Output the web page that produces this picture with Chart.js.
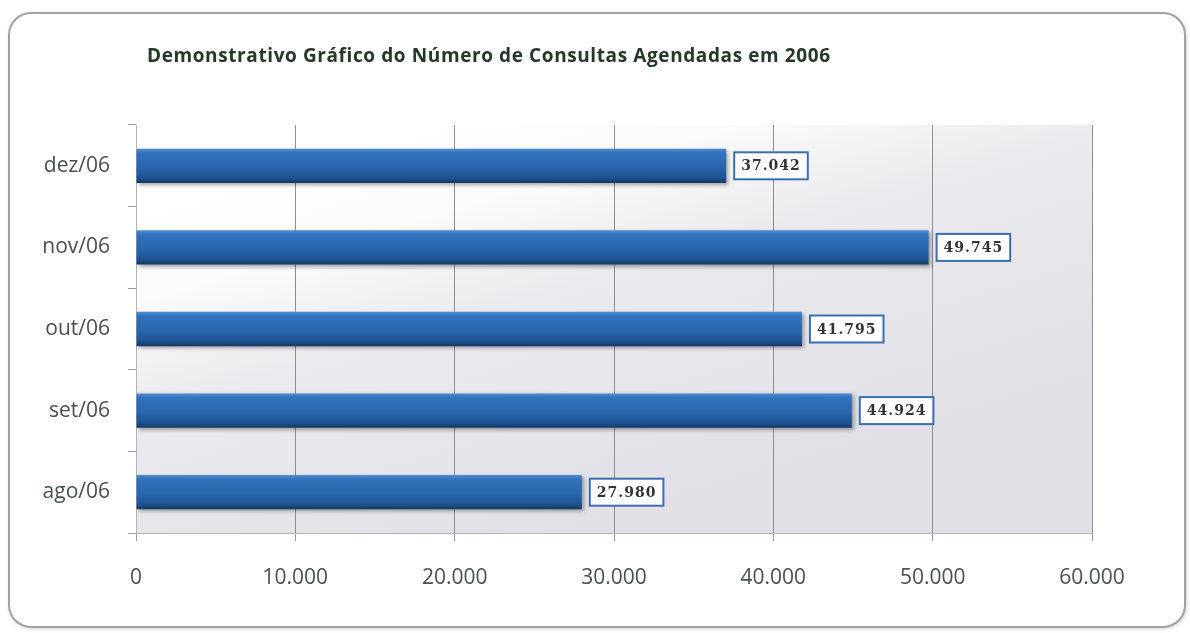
<!DOCTYPE html>
<html>
<head>
<meta charset="utf-8">
<script src="https://cdn.jsdelivr.net/npm/chart.js@4.4.1/dist/chart.umd.min.js"></script>
<style>
html,body{margin:0;padding:0;background:#fff;}
#wrap{width:1190px;height:633px;position:relative;}
</style>
</head>
<body>
<div id="wrap"><canvas id="c" width="1190" height="633"></canvas></div>
<script>
const chartTitle = 'Demonstrativo Gráfico do Número de Consultas Agendadas em 2006';
const categories = ['ago/06', 'set/06', 'out/06', 'nov/06', 'dez/06'];
const consultas = [27980, 44924, 41795, 49745, 37042];
const xTickValues = [0, 10000, 20000, 30000, 40000, 50000, 60000];

function fmt(v) {
  return String(Math.round(v)).replace(/\B(?=(\d{3})+(?!\d))/g, '.');
}

const cardPlugin = {
  id: 'card',
  beforeDraw(chart) {
    const ctx = chart.ctx;
    const a = chart.chartArea;
    ctx.save();
    const x = 9, y = 13, w = 1176, h = 614, r = 22;
    ctx.beginPath();
    ctx.roundRect(x, y, w, h, r);
    ctx.fillStyle = '#ffffff';
    ctx.shadowColor = 'rgba(0,0,0,0.25)';
    ctx.shadowBlur = 4;
    ctx.shadowOffsetX = 1;
    ctx.shadowOffsetY = 1;
    ctx.fill();
    ctx.shadowColor = 'transparent';
    ctx.lineWidth = 2;
    ctx.strokeStyle = '#a2a2a2';
    ctx.stroke();
    const g = ctx.createLinearGradient(a.left + 300, a.top, a.left + 420, a.bottom);
    g.addColorStop(0, '#ffffff');
    g.addColorStop(0.2, '#fbfbfc');
    g.addColorStop(0.45, '#ebebef');
    g.addColorStop(1, '#e0e0e6');
    ctx.fillStyle = g;
    ctx.fillRect(a.left, a.top, a.right - a.left, a.bottom - a.top);
    ctx.font = 'bold 19px "Open Sans"';
    ctx.letterSpacing = '0.6px';
    ctx.fillStyle = '#243a26';
    ctx.textBaseline = 'middle';
    ctx.textAlign = 'left';
    ctx.fillText(chartTitle, 147, 57);
    ctx.restore();
  },
  beforeDatasetsDraw(chart) {
    const ctx = chart.ctx;
    const meta = chart.getDatasetMeta(0);
    meta.data.forEach(el => {
      const top = el.y - el.height / 2, bot = el.y + el.height / 2;
      const g = ctx.createLinearGradient(0, top, 0, bot);
      g.addColorStop(0, '#4e8fd4');
      g.addColorStop(0.12, '#3372bc');
      g.addColorStop(0.55, '#2866ae');
      g.addColorStop(0.85, '#1e5392');
      g.addColorStop(1, '#133862');
      el.options = Object.assign({}, el.options, { backgroundColor: g });
    });
    ctx.save();
    ctx.shadowColor = 'rgba(0,0,0,0.35)';
    ctx.shadowBlur = 4;
    ctx.shadowOffsetX = 2;
    ctx.shadowOffsetY = 2;
  },
  afterDatasetsDraw(chart) {
    const ctx = chart.ctx;
    ctx.restore();
    const meta = chart.getDatasetMeta(0);
    ctx.save();
    ctx.font = 'bold 14px "DejaVu Serif"';
    ctx.letterSpacing = '1px';
    ctx.textBaseline = 'middle';
    ctx.textAlign = 'left';
    meta.data.forEach((el, i) => {
      const txt = fmt(consultas[i]);
      const tw = ctx.measureText(txt).width;
      const bx = el.x + 8, bw = tw + 14, bh = 27;
      const by = el.y - bh / 2;
      ctx.fillStyle = '#ffffff';
      ctx.fillRect(bx, by, bw, bh);
      ctx.lineWidth = 2;
      ctx.strokeStyle = '#3a6db3';
      ctx.strokeRect(bx, by, bw, bh);
      ctx.fillStyle = '#333333';
      ctx.fillText(txt, bx + 7, el.y + 1);
    });
    ctx.restore();
  }
};

new Chart(document.getElementById('c'), {
  type: 'bar',
  data: {
    labels: categories,
    datasets: [{
      data: consultas,
      backgroundColor: (ctx) => '#2866ae',
      borderWidth: 0,
      barPercentage: 0.42,
      categoryPercentage: 1.0
    }]
  },
  options: {
    indexAxis: 'y',
    responsive: false,
    animation: false,
    layout: { padding: { left: 0, right: 98, top: 125, bottom: 0 } },
    plugins: {
      legend: { display: false },
      title: { display: false },
      tooltip: { enabled: false }
    },
    scales: {
      x: {
        min: 0, max: 60000,
        afterBuildTicks(axis) { axis.ticks = xTickValues.map(v => ({ value: v })); },
        afterFit(axis) { axis.height = 100; },
        grid: { color: '#8e8e8e', lineWidth: 1, tickLength: 8, tickColor: '#9a9a9a' },
        border: { color: '#b4b4b4' },
        ticks: {
          padding: 24,
          color: '#46524a',
          font: { family: '"Open Sans"', size: 21 },
          callback: v => fmt(v)
        }
      },
      y: {
        reverse: true,
        afterFit(axis) { axis.width = 136; },
        grid: { offset: true, drawOnChartArea: false, tickLength: 8, color: '#9a9a9a' },
        border: { color: '#b4b4b4' },
        ticks: {
          padding: 18,
          color: '#46524a',
          font: { family: '"Open Sans"', size: 21 }
        }
      }
    }
  },
  plugins: [cardPlugin]
});
</script>
</body>
</html>
